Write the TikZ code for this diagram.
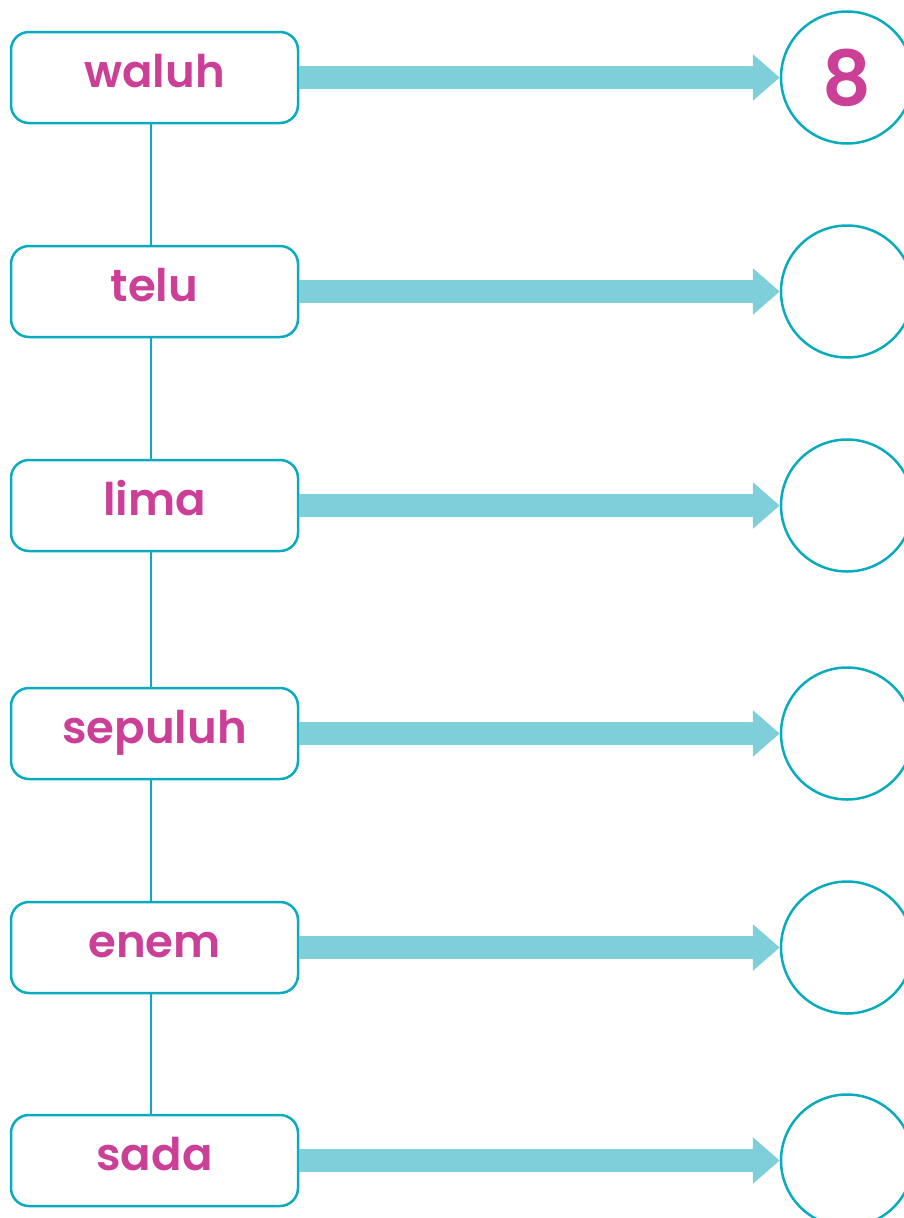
\documentclass[tikz,border=0pt]{standalone}
\usepackage{fontspec}
\setmainfont{Poppins}[BoldFont={Poppins SemiBold}]
\usetikzlibrary{positioning, arrows.meta}
\definecolor{Turquesa}{HTML}{0AABBD}
\definecolor{Celeste}{HTML}{7ECFDA}
\definecolor{Magenta}{HTML}{CC3F96}

\begin{document}
\begin{tikzpicture}[
    x=1pt, y=-1pt,
    >={Triangle[length=27pt, width=45pt]}, % punta ancha de la flecha
    caja/.style={draw=Turquesa, line width=2.5pt, rounded corners=18pt,
        minimum width=287pt, minimum height=91pt, inner sep=0pt,
        text height=34pt, text depth=14pt,
        font=\fontsize{45}{50}\selectfont\bfseries, text=Magenta},
    circulo/.style={circle, draw=Turquesa, line width=2.5pt, minimum size=132pt,
        inner sep=0pt, font=\fontsize{76}{80}\selectfont\bfseries, text=Magenta},
    flecha/.style={->, draw=Celeste, line width=23pt},
    enlace/.style={draw=Turquesa, line width=2.5pt}
]

    % Marco de la imagen
    \useasboundingbox (0,0) rectangle (904,1218);
    \clip (0,0) rectangle (904,1218);

    % 1. Cajas con los nombres de los números
    \node[caja] (waluh) at (154.5,77.5) {waluh};
    \node[caja, below=120.5pt of waluh] (telu) {telu};
    \node[caja, below=120.5pt of telu] (lima) {lima};
    \node[caja, below=134.5pt of lima] (sepuluh) {sepuluh};
    \node[caja, below=120.5pt of sepuluh] (enem) {enem};
    \node[caja, below=119.5pt of enem] (sada) {sada};

    % 2. Línea vertical que une las cajas (un poco a la izquierda del centro)
    \draw[enlace] ([xshift=-3.5pt]waluh.south) -- ([xshift=-3.5pt]telu.north);
    \draw[enlace] ([xshift=-3.5pt]telu.south) -- ([xshift=-3.5pt]lima.north);
    \draw[enlace] ([xshift=-3.5pt]lima.south) -- ([xshift=-3.5pt]sepuluh.north);
    \draw[enlace] ([xshift=-3.5pt]sepuluh.south) -- ([xshift=-3.5pt]enem.north);
    \draw[enlace] ([xshift=-3.5pt]enem.south) -- ([xshift=-3.5pt]sada.north);

    % 3. Círculos para escribir la cifra
    \node[circulo] (num_waluh) at (waluh -| 847,0) {8};
    \node[circulo] (num_telu) at (telu -| 847,0) {};
    \node[circulo] (num_lima) at (lima -| 847,0) {};
    \node[circulo] (num_sepuluh) at (sepuluh -| 847,0) {};
    \node[circulo] (num_enem) at (enem -| 847,0) {};
    \node[circulo] (num_sada) at (sada -| 847,0) {};

    % 4. Flechas de cada caja a su círculo
    \draw[flecha] (waluh) -- (num_waluh);
    \draw[flecha] (telu) -- (num_telu);
    \draw[flecha] (lima) -- (num_lima);
    \draw[flecha] (sepuluh) -- (num_sepuluh);
    \draw[flecha] (enem) -- (num_enem);
    \draw[flecha] (sada) -- (num_sada);

\end{tikzpicture}
\end{document}
